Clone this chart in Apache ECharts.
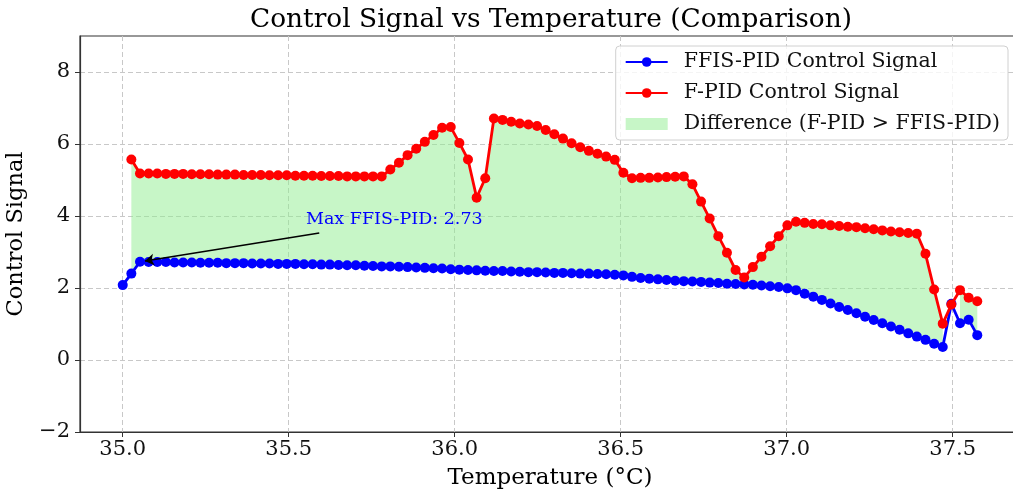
<!DOCTYPE html>
<html>
<head>
<meta charset="utf-8">
<script src="https://cdn.jsdelivr.net/npm/echarts@6/dist/echarts.min.js"></script>
<style>
  html, body { margin: 0; padding: 0; background: #fff; }
  #chart { width: 1013px; height: 493px; }
</style>
</head>
<body>
<div id="chart"></div>
<script>
// temperature (°C) for each sample
const temps = [35.000, 35.026, 35.052, 35.078, 35.104, 35.130, 35.156, 35.182, 35.208, 35.234,
  35.260, 35.286, 35.312, 35.338, 35.364, 35.390, 35.416, 35.442, 35.468, 35.494,
  35.520, 35.546, 35.572, 35.598, 35.624, 35.650, 35.676, 35.702, 35.728, 35.754,
  35.780, 35.806, 35.832, 35.858, 35.884, 35.910, 35.936, 35.962, 35.988, 36.014,
  36.040, 36.066, 36.092, 36.118, 36.144, 36.170, 36.196, 36.222, 36.248, 36.274,
  36.300, 36.326, 36.352, 36.378, 36.404, 36.430, 36.456, 36.482, 36.508, 36.534,
  36.560, 36.586, 36.612, 36.638, 36.664, 36.690, 36.716, 36.742, 36.768, 36.794,
  36.820, 36.846, 36.872, 36.898, 36.924, 36.950, 36.976, 37.002, 37.028, 37.054,
  37.080, 37.106, 37.132, 37.158, 37.184, 37.210, 37.236, 37.262, 37.288, 37.314,
  37.340, 37.366, 37.392, 37.418, 37.444, 37.470, 37.496, 37.522, 37.548, 37.574];

// FFIS-PID control signal
const ffisPid = [2.08, 2.40, 2.73, 2.72, 2.72, 2.72, 2.71, 2.71, 2.71, 2.70,
  2.70, 2.70, 2.69, 2.69, 2.69, 2.68, 2.68, 2.68, 2.67, 2.67,
  2.67, 2.66, 2.66, 2.65, 2.65, 2.64, 2.63, 2.63, 2.62, 2.61,
  2.60, 2.60, 2.59, 2.58, 2.57, 2.56, 2.55, 2.54, 2.52, 2.51,
  2.50, 2.49, 2.48, 2.47, 2.47, 2.46, 2.45, 2.44, 2.44, 2.43,
  2.42, 2.42, 2.41, 2.40, 2.40, 2.39, 2.38, 2.37, 2.35, 2.31,
  2.28, 2.26, 2.24, 2.22, 2.20, 2.19, 2.18, 2.17, 2.15, 2.14,
  2.12, 2.11, 2.10, 2.09, 2.07, 2.05, 2.03, 1.99, 1.94, 1.84,
  1.76, 1.67, 1.57, 1.47, 1.39, 1.30, 1.20, 1.11, 1.02, 0.93,
  0.84, 0.74, 0.65, 0.56, 0.45, 0.36, 1.56, 1.02, 1.12, 0.69];

// F-PID control signal (no value at the first sample)
const fPid = [null, 5.57, 5.18, 5.18, 5.18, 5.17, 5.17, 5.17, 5.16, 5.16,
  5.16, 5.15, 5.15, 5.15, 5.14, 5.14, 5.14, 5.13, 5.13, 5.13,
  5.12, 5.12, 5.12, 5.11, 5.11, 5.11, 5.10, 5.10, 5.10, 5.10,
  5.10, 5.29, 5.48, 5.69, 5.87, 6.06, 6.25, 6.45, 6.47, 6.03,
  5.57, 4.51, 5.05, 6.71, 6.67, 6.62, 6.57, 6.54, 6.50, 6.39,
  6.27, 6.15, 6.02, 5.91, 5.81, 5.73, 5.65, 5.56, 5.20, 5.05,
  5.06, 5.06, 5.07, 5.08, 5.09, 5.10, 4.88, 4.40, 3.93, 3.44,
  2.98, 2.50, 2.29, 2.58, 2.87, 3.16, 3.44, 3.74, 3.84, 3.81,
  3.78, 3.77, 3.74, 3.72, 3.70, 3.69, 3.66, 3.63, 3.60, 3.57,
  3.55, 3.53, 3.51, 2.95, 1.96, 1.01, 1.54, 1.94, 1.73, 1.63];

const yTicks = [-2, 0, 2, 4, 6, 8];

const FONT = '"DejaVu Serif", serif';
const FILL = 'rgba(144,238,144,0.5)';

const pair = (arr) => temps.map((t, i) => [t, arr[i] == null ? '-' : arr[i]]);

// runs of samples where F-PID > FFIS-PID (filled between the curves)
const runs = [];
let start = -1;
for (let i = 0; i <= temps.length; i++) {
  const ok = i < temps.length && fPid[i] != null && fPid[i] > ffisPid[i];
  if (ok && start < 0) start = i;
  if (!ok && start >= 0) { runs.push([temps[start], ffisPid[start], start, i - 1]); start = -1; }
}

// max of FFIS-PID
let iMax = 0;
ffisPid.forEach((v, i) => { if (v > ffisPid[iMax]) iMax = i; });
const xMax = temps[iMax], yMax = ffisPid[iMax];

const span = temps[temps.length - 1] - temps[0];
const xMin = temps[0] - span * 0.05;
const xMaxAxis = temps[temps.length - 1] + span * 0.05;

const chart = echarts.init(document.getElementById('chart'), null, { renderer: 'canvas' });

const option = {
  animation: false,
  backgroundColor: '#fff',
  title: {
    text: 'Control Signal vs Temperature (Comparison)',
    left: 546,
    textAlign: 'center',
    top: 2,
    textStyle: { fontFamily: FONT, fontSize: 26.4, fontWeight: 'normal', color: '#000' }
  },
  legend: {
    orient: 'vertical',
    right: 5,
    top: 46,
    padding: [5, 8, 5, 9],
    itemWidth: 42,
    itemHeight: 12,
    itemGap: 9,
    backgroundColor: 'rgba(255,255,255,0.8)',
    borderColor: '#d0d0d0',
    borderWidth: 1,
    borderRadius: 4,
    textStyle: { fontFamily: FONT, fontSize: 20.5, color: '#111', lineHeight: 22, padding: [0, 0, 0, 11] },
    data: [
      { name: 'FFIS-PID Control Signal' },
      { name: 'F-PID Control Signal' },
      { name: 'Difference (F-PID > FFIS-PID)', icon: 'rect', itemStyle: { color: FILL } }
    ]
  },
  grid: {
    left: 80,
    top: 36,
    width: 940,
    height: 396,
    show: true,
    borderColor: '#333',
    borderWidth: 1.2,
    outerBoundsMode: 'none'
  },
  xAxis: {
    type: 'value',
    min: xMin,
    max: xMaxAxis,
    splitNumber: 5,
    name: 'Temperature (°C)',
    nameLocation: 'middle',
    nameGap: 35,
    nameTextStyle: { fontFamily: FONT, fontSize: 23, color: '#000' },
    axisLine: { show: true, onZero: false, lineStyle: { color: '#333', width: 1.2 } },
    axisTick: { show: true, length: 5, lineStyle: { color: '#333' } },
    axisLabel: {
      fontFamily: FONT, fontSize: 21, color: '#111', margin: 7,
      showMinLabel: false, showMaxLabel: false,
      formatter: (v) => v.toFixed(1)
    },
    splitLine: { show: true, showMinLine: false, showMaxLine: false, lineStyle: { color: '#c8c8c8', type: [5, 3], width: 1 } }
  },
  yAxis: {
    type: 'value',
    min: yTicks[0],
    max: 9,
    interval: 2,
    name: 'Control Signal',
    nameLocation: 'middle',
    nameGap: 42,
    nameTextStyle: { fontFamily: FONT, fontSize: 22.5, color: '#000' },
    axisLine: { show: true, onZero: false, lineStyle: { color: '#333', width: 1.2 } },
    axisTick: { show: true, length: 5, lineStyle: { color: '#333' } },
    axisLabel: {
      fontFamily: FONT, fontSize: 21, color: '#111', margin: 10,
      showMaxLabel: false,
      formatter: (v) => String(v).replace('-', '\u2212')
    },
    splitLine: { show: true, showMinLine: false, showMaxLine: false, lineStyle: { color: '#c8c8c8', type: [5, 3], width: 1 } }
  },
  series: [
    {
      name: 'Difference (F-PID > FFIS-PID)',
      type: 'custom',
      data: runs,
      encode: { x: 0, y: 1 },
      itemStyle: { color: FILL },
      silent: true,
      z: 1,
      renderItem: function (params, api) {
        const s = api.value(2), e = api.value(3);
        const pts = [];
        for (let i = s; i <= e; i++) pts.push(api.coord([temps[i], fPid[i]]));
        for (let i = e; i >= s; i--) pts.push(api.coord([temps[i], ffisPid[i]]));
        return {
          type: 'polygon',
          shape: { points: pts },
          style: { fill: FILL, stroke: null }
        };
      }
    },
    {
      name: 'FFIS-PID Control Signal',
      type: 'line',
      data: pair(ffisPid),
      symbol: 'circle',
      symbolSize: 10,
      showAllSymbol: true,
      itemStyle: { color: '#0000ff' },
      lineStyle: { color: '#0000ff', width: 2.8 },
      z: 3,
      markLine: {
        silent: true,
        symbol: ['none', 'arrow'],
        symbolSize: 9,
        lineStyle: { color: '#000', width: 1.5, type: 'solid' },
        label: { show: false },
        data: [[
          { coord: [xMax + 0.54, yMax + 0.8] },
          { coord: [xMax + 0.015, yMax + 0.02] }
        ]]
      },
      markPoint: {
        silent: true,
        symbol: 'circle',
        symbolSize: 0,
        data: [{
          coord: [xMax + 0.5, yMax + 1],
          label: {
            show: true,
            position: [0, 0],
            align: 'left',
            verticalAlign: 'middle',
            offset: [0, -6],
            formatter: 'Max FFIS-PID: ' + yMax.toFixed(2),
            fontFamily: FONT,
            fontSize: 17.5,
            color: '#0000ff'
          }
        }]
      }
    },
    {
      name: 'F-PID Control Signal',
      type: 'line',
      data: pair(fPid),
      symbol: 'circle',
      symbolSize: 10,
      showAllSymbol: true,
      connectNulls: false,
      itemStyle: { color: '#ff0000' },
      lineStyle: { color: '#ff0000', width: 2.8 },
      z: 4
    }
  ]
};

chart.setOption(option);
</script>
</body>
</html>
